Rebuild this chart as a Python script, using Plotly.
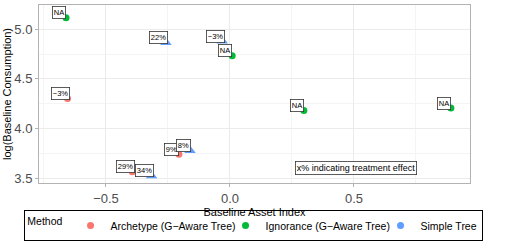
import plotly.graph_objects as go

# Data
methods = ["Archetype (G\u2212Aware Tree)", "Ignorance (G\u2212Aware Tree)", "Simple Tree"]
colors = {"Archetype (G\u2212Aware Tree)": "#F8766D",
          "Ignorance (G\u2212Aware Tree)": "#00BA38",
          "Simple Tree": "#619CFF"}

arch_x = [-0.655, -0.206, -0.394]
arch_y = [4.303, 3.743, 3.566]
arch_lab = ["\u22123%", "9%", "29%"]

ign_x = [-0.661, 0.009, 0.298, 0.891]
ign_y = [5.116, 4.733, 4.183, 4.206]
ign_lab = ["NA", "NA", "NA", "NA"]

simp_x = [-0.258, -0.031, -0.161, -0.316]
simp_y = [4.866, 4.88, 3.78, 3.526]
simp_lab = ["22%", "\u22123%", "8%", "34%"]

note_text = "x% indicating treatment effect"
note_x, note_y = 0.507, 3.603

FONT = "Liberation Sans, Arial, sans-serif"

fig = go.Figure()
fig.add_trace(go.Scatter(x=arch_x, y=arch_y, mode="markers", name=methods[0], legendwidth=110,
                         marker=dict(color=colors[methods[0]], size=7, symbol="circle")))
fig.add_trace(go.Scatter(x=ign_x, y=ign_y, mode="markers", name=methods[1], legendwidth=110,
                         marker=dict(color=colors[methods[1]], size=7, symbol="circle")))
fig.add_trace(go.Scatter(x=simp_x, y=simp_y, mode="markers", name=methods[2], showlegend=False,
                         marker=dict(color=colors[methods[2]], size=10, symbol="triangle-up")))
fig.add_trace(go.Scatter(x=[None], y=[None], mode="markers", name=methods[2], legendwidth=56,
                         marker=dict(color=colors[methods[2]], size=7, symbol="circle")))

for xs, ys, labs in [(arch_x, arch_y, arch_lab), (ign_x, ign_y, ign_lab), (simp_x, simp_y, simp_lab)]:
    for x, y, t in zip(xs, ys, labs):
        fig.add_annotation(x=x, y=y, text=t, showarrow=False, xshift=-7, yshift=5,
                           font=dict(size=7.5, color="black", family=FONT),
                           bgcolor="white", bordercolor="#333333", borderwidth=0.8, borderpad=1)

fig.add_annotation(x=note_x, y=note_y, text=note_text, showarrow=False,
                   font=dict(size=9, color="black", family=FONT),
                   bgcolor="white", bordercolor="#333333", borderwidth=0.8, borderpad=1)

fig.update_layout(
    width=528, height=244,
    margin=dict(l=39, r=58, t=5, b=60),
    plot_bgcolor="white", paper_bgcolor="white",
    font=dict(family=FONT),
    xaxis=dict(range=[-0.770, 0.968], tickvals=[-0.5, 0, 0.5], ticktext=["\u22120.5", "0.0", "0.5"],
               showgrid=True, gridcolor="#EBEBEB", gridwidth=1, automargin=False,
               minor=dict(tickvals=[-0.75, -0.25, 0.25, 0.75], showgrid=True, gridcolor="#F4F4F4", gridwidth=0.5),
               ticks="outside", ticklen=3, tickcolor="#B3B3B3",
               tickfont=dict(size=13, color="#4D4D4D"),
               showline=True, linecolor="#B3B3B3", linewidth=1, mirror=True, zeroline=False,
               title=dict(text="Baseline Asset Index", font=dict(size=11, color="black"), standoff=2)),
    yaxis=dict(range=[3.453, 5.243], tickvals=[3.5, 4.0, 4.5, 5.0], ticktext=["3.5", "4.0", "4.5", "5.0"],
               showgrid=True, gridcolor="#EBEBEB", gridwidth=1, automargin=False,
               minor=dict(tickvals=[3.75, 4.25, 4.75], showgrid=True, gridcolor="#F4F4F4", gridwidth=0.5),
               ticks="outside", ticklen=3, tickcolor="#B3B3B3",
               tickfont=dict(size=13, color="#4D4D4D"),
               showline=True, linecolor="#B3B3B3", linewidth=1, mirror=True, zeroline=False,
               title=dict(text="log(Baseline Consumption)", font=dict(size=11, color="black"), standoff=0)),
    legend=dict(orientation="h", x=-0.034, xanchor="left", y=-0.318, yanchor="bottom",
                title=dict(text="Method", font=dict(size=10.5, color="black"), side="left"),
                font=dict(size=10.5, color="black"),
                bordercolor="black", borderwidth=1, bgcolor="white",
                itemwidth=30, tracegroupgap=0),
)

fig.write_html("out.html", config={"displayModeBar": False},
               post_script="document.body.style.margin='0';document.body.style.padding='0';")
